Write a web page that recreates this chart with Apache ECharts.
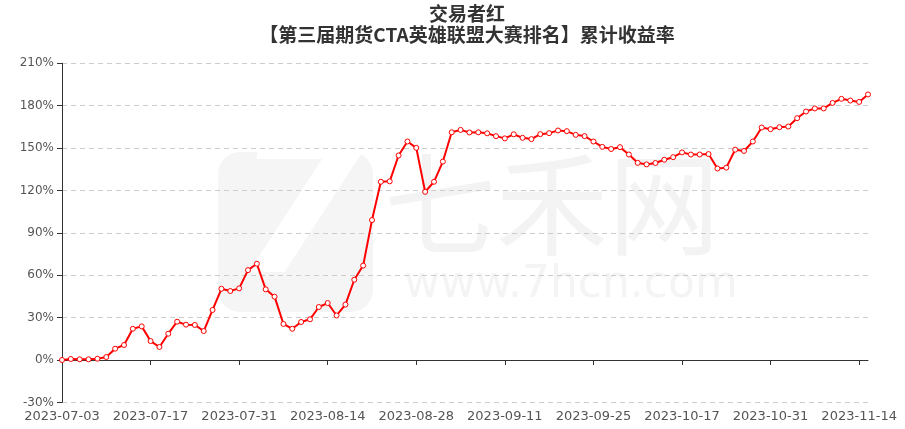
<!DOCTYPE html>
<html>
<head>
<meta charset="utf-8">
<script src="https://cdn.jsdelivr.net/npm/echarts@6/dist/echarts.min.js"></script>
<style>
html,body{margin:0;padding:0;background:#fff;}
#chart{width:905px;height:429px;}
</style>
</head>
<body>
<div id="chart"></div>
<script>
const titleLines = ['交易者红', '【第三届期货CTA英雄联盟大赛排名】累计收益率'];
const seriesName = '累计收益率';
const dates = [
  '2023-07-03','2023-07-04','2023-07-05','2023-07-06','2023-07-07',
  '2023-07-10','2023-07-11','2023-07-12','2023-07-13','2023-07-14',
  '2023-07-17','2023-07-18','2023-07-19','2023-07-20','2023-07-21',
  '2023-07-24','2023-07-25','2023-07-26','2023-07-27','2023-07-28',
  '2023-07-31','2023-08-01','2023-08-02','2023-08-03','2023-08-04',
  '2023-08-07','2023-08-08','2023-08-09','2023-08-10','2023-08-11',
  '2023-08-14','2023-08-15','2023-08-16','2023-08-17','2023-08-18',
  '2023-08-21','2023-08-22','2023-08-23','2023-08-24','2023-08-25',
  '2023-08-28','2023-08-29','2023-08-30','2023-08-31','2023-09-01',
  '2023-09-04','2023-09-05','2023-09-06','2023-09-07','2023-09-08',
  '2023-09-11','2023-09-12','2023-09-13','2023-09-14','2023-09-15',
  '2023-09-18','2023-09-19','2023-09-20','2023-09-21','2023-09-22',
  '2023-09-25','2023-09-26','2023-09-27','2023-09-28',
  '2023-10-09','2023-10-10','2023-10-11','2023-10-12','2023-10-13',
  '2023-10-16','2023-10-17','2023-10-18','2023-10-19','2023-10-20',
  '2023-10-23','2023-10-24','2023-10-25','2023-10-26','2023-10-27',
  '2023-10-30','2023-10-31','2023-11-01','2023-11-02','2023-11-03',
  '2023-11-06','2023-11-07','2023-11-08','2023-11-09','2023-11-10',
  '2023-11-13','2023-11-14','2023-11-15'
];
const returns = [
  0, 0.7, 0.5, 0.5, 0.9, 2.1, 8.0, 10.6, 22.1, 23.8,
  13.4, 9.2, 18.6, 27.1, 25.0, 24.8, 20.5, 35.4, 50.4, 48.8,
  50.7, 63.6, 68.1, 50.0, 44.8, 25.5, 22.1, 26.9, 28.8, 37.5,
  40.3, 31.5, 39.2, 56.8, 66.8, 99.0, 126.1, 126.4, 144.7, 154.6,
  150.1, 119.0, 126.1, 140.4, 161.1, 162.8, 161.0, 161.1, 160.4, 158.4,
  156.8, 159.7, 157.2, 156.3, 159.8, 160.5, 162.4, 161.9, 159.3, 158.4,
  154.6, 150.8, 149.3, 150.6, 145.4, 139.5, 138.4, 139.4, 141.7, 143.5,
  146.9, 145.4, 145.4, 145.7, 135.5, 136.1, 148.8, 147.9, 154.6, 164.5,
  163.3, 164.7, 165.2, 171.1, 175.8, 178.0, 178.0, 181.9, 184.8, 183.6,
  182.6, 187.9
];
const yMin = -30, yMax = 210, yStep = 30;

const chart = echarts.init(document.getElementById('chart'));
chart.setOption({
  animation: false,
  backgroundColor: '#fff',
  title: {
    text: titleLines.join('\n'),
    left: 467,
    top: 3,
    padding: 0,
    textAlign: 'center',
    textStyle: {
      fontSize: 19,
      fontWeight: 'bold',
      color: '#333',
      lineHeight: 21,
      fontFamily: '"Noto Sans CJK SC", sans-serif'
    }
  },
  graphic: [
    {
      type: 'rect', z: -10, silent: true,
      shape: { x: 218, y: 152, width: 155, height: 160, r: 22 },
      style: { fill: '#f5f5f5' }
    },
    {
      type: 'text', z: -9, silent: true,
      x: 300, y: 128,
      style: { text: '7', fill: '#fff', font: 'italic bold 190px "DejaVu Sans"', textAlign: 'center' }
    },
    {
      type: 'text', z: -9, silent: true,
      x: 384, y: 148,
      style: { text: '七禾网', fill: '#f3f3f3', font: '112px "Noto Sans CJK SC"' }
    },
    {
      type: 'text', z: -9, silent: true,
      x: 404, y: 264,
      style: { text: 'www.7hcn.com', fill: '#f4f4f4', font: '44px "DejaVu Sans"' }
    }
  ],
  grid: { left: 62, right: 37, top: 63.2, bottom: 26.6, containLabel: false, outerBoundsMode: 'none' },
  xAxis: [
    {
      type: 'category',
      data: dates,
      boundaryGap: false,
      position: 'bottom',
      axisLine: { onZero: true, lineStyle: { color: '#333', width: 1 } },
      axisTick: { show: true, interval: 9, length: 5, lineStyle: { color: '#333' } },
      axisLabel: { show: false },
      splitLine: { show: false }
    },
    {
      type: 'category',
      data: dates,
      boundaryGap: false,
      position: 'bottom',
      axisLine: { show: false, onZero: false },
      axisTick: { show: false },
      axisLabel: { interval: 9, margin: 8, fontSize: 13, color: '#555', fontFamily: 'DejaVu Sans' },
      splitLine: { show: false }
    }
  ],
  yAxis: {
    type: 'value',
    min: yMin, max: yMax, interval: yStep,
    axisLine: { show: true, lineStyle: { color: '#333' } },
    axisTick: { show: true, length: 5, lineStyle: { color: '#333' } },
    axisLabel: { formatter: '{value}%', fontSize: 12, color: '#555', margin: 8, fontFamily: 'DejaVu Sans' },
    splitLine: { show: true, lineStyle: { type: [5, 4], color: '#ccc' } }
  },
  series: [{
    name: seriesName,
    type: 'line',
    xAxisIndex: 0,
    data: returns,
    symbol: 'circle',
    symbolSize: 5,
    showAllSymbol: true,
    lineStyle: { color: '#ff0000', width: 2 },
    itemStyle: { color: '#fff', borderColor: '#ff0000', borderWidth: 1 }
  }]
});
</script>
</body>
</html>
